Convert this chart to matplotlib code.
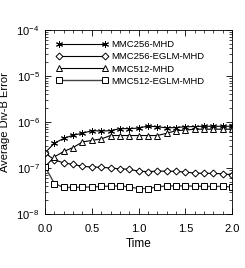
import matplotlib
matplotlib.use("Agg")
import matplotlib.pyplot as plt
from matplotlib.ticker import LogLocator, MultipleLocator, NullFormatter

plt.rcParams['font.family'] = ['Liberation Sans', 'DejaVu Sans']
plt.rcParams['mathtext.fontset'] = 'custom'
plt.rcParams['mathtext.rm'] = 'Liberation Sans'

# time samples
time = [0.0, 0.1, 0.2, 0.3, 0.4, 0.5, 0.6, 0.7, 0.8, 0.9, 1.0,
        1.1, 1.2, 1.3, 1.4, 1.5, 1.6, 1.7, 1.8, 1.9, 2.0]

mmc256_mhd = [2.15e-7, 3.5e-7, 4.4e-7, 5.2e-7, 5.7e-7, 6.5e-7, 6.4e-7, 6.5e-7,
              7.2e-7, 7.2e-7, 7.4e-7, 8.2e-7, 7.9e-7, 7.5e-7, 7.6e-7, 7.9e-7,
              8.0e-7, 8.1e-7, 8.1e-7, 8.1e-7, 8.1e-7]
mmc256_eglm = [2.15e-7, 1.5e-7, 1.3e-7, 1.2e-7, 1.1e-7, 1.05e-7, 1.05e-7, 1.0e-7,
               9.7e-8, 9.4e-8, 8.6e-8, 8.4e-8, 8.6e-8, 8.6e-8, 8.5e-8, 8.2e-8,
               7.8e-8, 7.7e-8, 7.7e-8, 7.5e-8, 7.2e-8]
mmc512_mhd = [1.07e-7, 1.76e-7, 2.3e-7, 2.8e-7, 3.7e-7, 4.0e-7, 4.3e-7, 5.1e-7,
              5.1e-7, 5.1e-7, 5.1e-7, 5.1e-7, 5.1e-7, 5.7e-7, 6.5e-7, 6.7e-7,
              7.0e-7, 7.0e-7, 7.0e-7, 7.0e-7, 7.0e-7]
mmc512_eglm = [1.07e-7, 4.6e-8, 3.8e-8, 3.8e-8, 3.85e-8, 3.9e-8, 4.0e-8, 4.05e-8,
               4.1e-8, 3.9e-8, 3.6e-8, 3.6e-8, 3.9e-8, 4.1e-8, 4.1e-8, 4.1e-8,
               4.05e-8, 4.0e-8, 4.0e-8, 4.0e-8, 3.9e-8]

fig = plt.figure(figsize=(2.45, 2.68), dpi=100)
ax = fig.add_axes([0.184, 0.201, 0.763, 0.687])

ms = 4
ax.plot(time, mmc256_mhd, '-', color='black', lw=0.8, marker=(6, 2, 0),
        ms=ms + 1, mew=0.7, label='MMC256-MHD')
ax.plot(time, mmc256_eglm, '-', color='black', lw=0.8, marker='D', ms=ms - 0.5,
        mfc='white', mec='black', mew=0.7, label='MMC256-EGLM-MHD')
ax.plot(time, mmc512_mhd, '-', color='black', lw=0.8, marker='^', ms=ms,
        mfc='white', mec='black', mew=0.7, label='MMC512-MHD')
ax.plot(time, mmc512_eglm, '-', color='#444444', lw=1.0, marker='s', ms=ms,
        mfc='white', mec='black', mew=0.7, label='MMC512-EGLM-MHD')

ax.set_yscale('log')
ax.set_xlim(0, 2.0)
ax.set_ylim(1e-8, 1e-4)
ax.xaxis.set_major_locator(MultipleLocator(0.5))
ax.xaxis.set_minor_locator(MultipleLocator(0.1))
ax.xaxis.set_major_formatter(plt.FuncFormatter(lambda v, p: '%.1f' % v))
ax.yaxis.set_major_locator(LogLocator(base=10, numticks=10))
ax.yaxis.set_minor_locator(LogLocator(base=10, subs=range(2, 10), numticks=10))
ax.yaxis.set_minor_formatter(NullFormatter())
ax.tick_params(which='both', direction='in', top=True, right=True, labelsize=8)
ax.tick_params(axis='x', pad=7)
ax.tick_params(axis='y', pad=4)
ax.tick_params(which='major', length=4, width=0.6)
ax.tick_params(which='minor', length=2, width=0.5)
for s in ax.spines.values():
    s.set_linewidth(0.6)

ax.set_xlabel('Time', fontsize=8.5, labelpad=3)
ax.set_ylabel('Average Div-B Error', fontsize=8)
ax.yaxis.set_label_coords(-0.19, 0.5)

ax.legend(loc='upper left', frameon=False, fontsize=6.8, numpoints=2,
          handlelength=5.5, handletextpad=0.3, labelspacing=0.33,
          borderaxespad=0.4, bbox_to_anchor=(0.02, 0.985))

fig.savefig('out.png', dpi=100)
